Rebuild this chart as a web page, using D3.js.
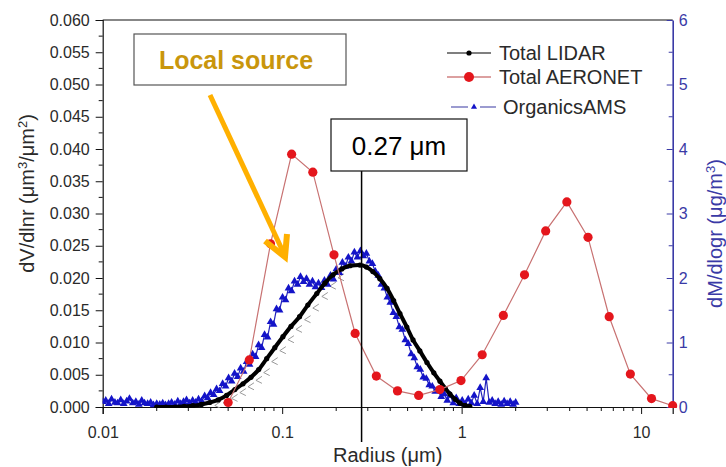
<!DOCTYPE html>
<html><head><meta charset="utf-8">
<script src="https://cdn.jsdelivr.net/npm/d3@7"></script>
<style>
html,body{margin:0;padding:0;background:#fff;}
svg{display:block;font-family:"Liberation Sans",Arial,sans-serif;}
</style></head>
<body>
<svg id="chart" width="726" height="467"></svg>
<script>
// ---------- DATA ----------
const xTickValues = [0.01, 0.1, 1, 10];
const xTickLabels = ["0.01", "0.1", "1", "10"];
const leftTicks = [0, 0.005, 0.01, 0.015, 0.02, 0.025, 0.03, 0.035, 0.04, 0.045, 0.05, 0.055, 0.06];
const rightTicks = [0, 1, 2, 3, 4, 5, 6];

// Total AERONET (left axis)
const aeronetR = [0.05, 0.0656, 0.0861, 0.1129, 0.1482, 0.1944, 0.2551, 0.3347, 0.4392, 0.5762, 0.7561, 0.9920,
  1.3016, 1.7078, 2.2407, 2.9400, 3.8575, 5.0613, 6.6407, 8.7131, 11.4323, 15.0];
const aeronetV = [0.0007, 0.0073, 0.0253, 0.0392, 0.0364, 0.0236, 0.0114, 0.0048, 0.0025, 0.0018, 0.0027, 0.0041,
  0.0081, 0.0142, 0.0205, 0.0273, 0.0318, 0.0263, 0.0140, 0.0051, 0.0013, 0.0002];

// Total LIDAR (left axis)
const lidarR = [0.0200, 0.0225, 0.0253, 0.0285, 0.0318, 0.0355, 0.0395, 0.0440, 0.0490, 0.0545, 0.0605, 0.0670,
  0.0740, 0.0820, 0.0910, 0.1010, 0.1120, 0.1250, 0.1390, 0.1560, 0.1730, 0.1920, 0.2150, 0.2390, 0.2710,
  0.2950, 0.3200, 0.3500, 0.3840, 0.4180, 0.4530, 0.4950, 0.5360, 0.5850, 0.6410, 0.7000, 0.7570, 0.8100,
  0.8610, 0.9200, 0.9780, 1.0500, 1.1100];
const lidarV = [0.0000, 0.0000, 0.0000, 0.0001, 0.0002, 0.0004, 0.0007, 0.0011, 0.0018, 0.0027, 0.0036, 0.0046,
  0.0058, 0.0075, 0.0092, 0.0109, 0.0125, 0.0140, 0.0158, 0.0176, 0.0192, 0.0205, 0.0214, 0.0219, 0.0220,
  0.0217, 0.0210, 0.0199, 0.0184, 0.0165, 0.0145, 0.0124, 0.0104, 0.0087, 0.0069, 0.0053, 0.0040, 0.0029,
  0.0020, 0.0012, 0.0006, 0.0002, 0.0001];

// Organics AMS (right axis)
const amsR = [0.0100, 0.0104, 0.0108, 0.0112, 0.0117, 0.0121, 0.0126, 0.0131, 0.0136, 0.0141, 0.0147, 0.0153,
  0.0159, 0.0165, 0.0171, 0.0178, 0.0185, 0.0192, 0.0200, 0.0208, 0.0216, 0.0224, 0.0233, 0.0242, 0.0252,
  0.0262, 0.0272, 0.0282, 0.0293, 0.0305, 0.0317, 0.0329,
  0.0342, 0.0356, 0.0370, 0.0384, 0.0399, 0.0415, 0.0431, 0.0448, 0.0466, 0.0484, 0.0503, 0.0523, 0.0543,
  0.0565, 0.0587, 0.0610, 0.0634, 0.0658, 0.0684, 0.0711, 0.0739, 0.0768, 0.0798, 0.0829, 0.0862, 0.0895,
  0.0930, 0.0967, 0.1005, 0.1044, 0.1085, 0.1128, 0.1172, 0.1218, 0.1265, 0.1315, 0.1366, 0.1420, 0.1475,
  0.1533, 0.1593, 0.1656, 0.1720, 0.1788, 0.1858, 0.1930, 0.2006, 0.2085, 0.2166, 0.2251, 0.2339, 0.2431,
  0.2526, 0.2625, 0.2728, 0.2835, 0.2946, 0.3061, 0.3181, 0.3306, 0.3435, 0.3570, 0.3710, 0.3855, 0.4006,
  0.4163, 0.4326, 0.4496, 0.4672, 0.4855, 0.5045, 0.5243, 0.5448, 0.5662, 0.5883, 0.6114, 0.6353, 0.6602,
  0.6861, 0.7130, 0.7409, 0.7699, 0.8001, 0.8314, 0.8640, 0.8978, 0.9330, 0.9696, 1.0076, 1.047, 1.088,
  1.131, 1.175, 1.221, 1.269, 1.319, 1.370, 1.424, 1.480, 1.538, 1.598, 1.661, 1.726, 1.793, 1.864, 1.937, 2.0];
const amsV = [0.08, 0.10, 0.05, 0.12, 0.07, 0.06, 0.11, 0.05, 0.09, 0.13, 0.06, 0.08,
  0.04, 0.10, 0.06, 0.05, 0.07, 0.03, 0.05, 0.04, 0.06, 0.03, 0.05, 0.07, 0.04,
  0.09, 0.05, 0.08, 0.11, 0.06, 0.10, 0.07,
  0.12, 0.09, 0.17, 0.14, 0.22, 0.19, 0.28, 0.25, 0.36, 0.32, 0.45, 0.40, 0.52,
  0.47, 0.60, 0.55, 0.70, 0.66, 0.82, 0.78, 0.96, 0.92, 1.12, 1.08, 1.32, 1.28,
  1.52, 1.50, 1.70, 1.66, 1.84, 1.80, 1.95, 1.90, 2.02, 1.94, 1.99, 1.90, 1.95,
  1.86, 1.92, 1.85, 1.96, 1.90, 2.04, 1.98, 2.14, 2.08, 2.24, 2.18, 2.32, 2.26,
  2.40, 2.32, 2.42, 2.34, 2.38, 2.26, 2.22, 2.10, 2.04, 1.90, 1.84, 1.70, 1.62,
  1.46, 1.40, 1.24, 1.20, 1.04, 0.98, 0.82, 0.76, 0.62, 0.58, 0.46, 0.44, 0.34,
  0.32, 0.24, 0.25, 0.16, 0.20, 0.10, 0.18, 0.06, 0.14, 0.05, 0.10, 0.04, 0.12,
  0.06, 0.18, 0.05, 0.30, 0.08, 0.45, 0.07, 0.10, 0.05, 0.08, 0.04, 0.09, 0.05, 0.08, 0.04, 0.07];

const seriesNames = ["Total LIDAR", "Total AERONET", "OrganicsAMS"];
const markerRadius = 0.27;   // µm, annotated
const markerLabel = "0.27 \u03bcm";
const localLabel = "Local source";

// ---------- LAYOUT ----------
const svg = d3.select("#chart");
const L = 102.7, R = 672.7, T = 20, B = 407;
const FONT = "'Liberation Sans', Arial, sans-serif";
const rightColor = "#3a3aa6";

const x = d3.scaleLog().domain([0.01, 15]).range([L, R]);
const yL = d3.scaleLinear().domain([0, 0.06]).range([B, T]);
const yR = d3.scaleLinear().domain([0, 6]).range([B, T]);

// frame top
svg.append("line").attr("x1", L).attr("x2", R).attr("y1", T).attr("y2", T)
  .attr("stroke", "#111").attr("stroke-width", 1.2);

// bottom axis
const minorX = [];
[0.01, 0.1, 1, 10].forEach(d => { for (let k = 2; k <= 9; k++) { const v = d * k; if (v <= 15) minorX.push(v); } });
const gx = svg.append("g").attr("transform", `translate(0,${B})`);
gx.call(d3.axisBottom(x).tickValues(xTickValues).tickFormat((d, i) => xTickLabels[i]).tickSize(7).tickPadding(13));
gx.append("g").selectAll("line").data(minorX).join("line")
  .attr("x1", d => x(d)).attr("x2", d => x(d)).attr("y1", 0).attr("y2", 4).attr("stroke", "#111");
gx.select(".domain").attr("stroke", "#111").attr("stroke-width", 1.2);
gx.selectAll(".tick line").attr("stroke", "#111");
gx.selectAll("text").attr("font-size", 16).attr("font-family", FONT).attr("fill", "#2a2a2a");

// left axis
const minorL = d3.range(0.0025, 0.06, 0.005);
const gl = svg.append("g").attr("transform", `translate(${L},0)`);
gl.call(d3.axisLeft(yL).tickValues(leftTicks).tickFormat(d3.format(".3f")).tickSize(7).tickPadding(6));
gl.append("g").selectAll("line").data(minorL).join("line")
  .attr("x1", 0).attr("x2", -4).attr("y1", d => yL(d)).attr("y2", d => yL(d)).attr("stroke", "#111");
gl.select(".domain").attr("stroke", "#111").attr("stroke-width", 1.2);
gl.selectAll(".tick line").attr("stroke", "#111");
gl.selectAll("text").attr("font-size", 16).attr("font-family", FONT).attr("fill", "#2a2a2a");

// right axis (ticks pointing inward)
const minorR = d3.range(0.5, 6, 1);
const gr = svg.append("g").attr("transform", `translate(${R},0)`);
gr.call(d3.axisRight(yR).tickValues(rightTicks).tickFormat(d3.format("d")).tickSize(0).tickPadding(6));
gr.selectAll(".tick").append("line").attr("x1", 0).attr("x2", -6).attr("stroke", rightColor);
gr.append("g").selectAll("line").data(minorR).join("line")
  .attr("x1", 0).attr("x2", -4).attr("y1", d => yR(d)).attr("y2", d => yR(d)).attr("stroke", rightColor);
gr.select(".domain").attr("stroke", rightColor).attr("stroke-width", 1.6);
gr.selectAll("text").attr("font-size", 16).attr("font-family", FONT).attr("fill", rightColor);

// axis titles
const lt = svg.append("text").attr("transform", `translate(34,${(T + B) / 2 - 20}) rotate(-90)`)
  .attr("text-anchor", "middle").attr("font-size", 20).attr("fill", "#2a2a2a").attr("font-family", FONT);
lt.append("tspan").text("dV/dlnr (\u03bcm");
lt.append("tspan").attr("dy", -7).attr("font-size", 13).text("3");
lt.append("tspan").attr("dy", 7).text("/\u03bcm");
lt.append("tspan").attr("dy", -7).attr("font-size", 13).text("2");
lt.append("tspan").attr("dy", 7).text(")");

const rt = svg.append("text").attr("transform", `translate(722,${(T + B) / 2 + 20}) rotate(-90)`)
  .attr("text-anchor", "middle").attr("font-size", 20).attr("fill", rightColor).attr("font-family", FONT);
rt.append("tspan").text("dM/dlogr (\u03bcg/m");
rt.append("tspan").attr("dy", -7).attr("font-size", 13).text("3");
rt.append("tspan").attr("dy", 7).text(")");

svg.append("text").attr("x", (L + R) / 2).attr("y", 462).attr("text-anchor", "middle")
  .attr("font-size", 20).attr("fill", "#2a2a2a").attr("font-family", FONT).text("Radius (\u03bcm)");

// ---------- SERIES ----------
const plot = svg.append("g");
svg.append("clipPath").attr("id", "clip").append("rect")
  .attr("x", L).attr("y", T - 5).attr("width", R - L + 5).attr("height", B - T + 6);
plot.attr("clip-path", "url(#clip)");

// LIDAR error ticks (grey) on rising flank
const lidar = lidarR.map((r, i) => ({ r, v: lidarV[i] }));
plot.append("g").selectAll("path").data(lidar.filter(d => d.r > 0.038 && d.r < 0.2)).join("path")
  .attr("d", d => { const px = x(d.r), py = yL(d.v); return `M${px + 11},${py - 1}L${px + 5},${py + 3}L${px + 11},${py + 6}`; })
  .attr("fill", "none").attr("stroke", "#9a9a9a").attr("stroke-width", 1);

// AMS
const ams = amsR.map((r, i) => ({ r, v: amsV[i] }));
plot.append("path").datum(ams)
  .attr("d", d3.line().x(d => x(d.r)).y(d => yR(d.v)))
  .attr("fill", "none").attr("stroke", "#2222bb").attr("stroke-width", 1.2);
plot.append("g").selectAll("path").data(ams).join("path")
  .attr("transform", d => `translate(${x(d.r)},${yR(d.v)})`)
  .attr("d", d3.symbol(d3.symbolTriangle, 26))
  .attr("fill", "#1414c8");

// LIDAR line + dots
plot.append("path").datum(lidar)
  .attr("d", d3.line().curve(d3.curveMonotoneX).x(d => x(d.r)).y(d => yL(d.v)))
  .attr("fill", "none").attr("stroke", "#000").attr("stroke-width", 4);
plot.append("g").selectAll("circle").data(lidar).join("circle")
  .attr("cx", d => x(d.r)).attr("cy", d => yL(d.v)).attr("r", 2.6).attr("fill", "#000");

// AERONET
const aer = aeronetR.map((r, i) => ({ r, v: aeronetV[i] }));
plot.append("path").datum(aer)
  .attr("d", d3.line().x(d => x(d.r)).y(d => yL(d.v)))
  .attr("fill", "none").attr("stroke", "#c87272").attr("stroke-width", 1.2);
plot.append("g").selectAll("circle").data(aer).join("circle")
  .attr("cx", d => x(d.r)).attr("cy", d => yL(d.v)).attr("r", 4.6).attr("fill", "#e4161c");

// ---------- ANNOTATIONS ----------
// vertical line at 0.27 µm
const mx = x(markerRadius) + 2;
svg.append("line").attr("x1", mx).attr("x2", mx).attr("y1", 171).attr("y2", 442)
  .attr("stroke", "#000").attr("stroke-width", 1.5);
svg.append("rect").attr("x", 331).attr("y", 119).attr("width", 136).attr("height", 52)
  .attr("fill", "#fff").attr("stroke", "#111").attr("stroke-width", 1.2);
svg.append("text").attr("x", 399).attr("y", 155).attr("text-anchor", "middle")
  .attr("font-size", 26).attr("fill", "#000").attr("font-family", FONT).text(markerLabel);

// Local source box
svg.append("rect").attr("x", 134).attr("y", 34).attr("width", 212).attr("height", 51)
  .attr("fill", "#fff").attr("stroke", "#555").attr("stroke-width", 1.2);
svg.append("text").attr("x", 236).attr("y", 69).attr("text-anchor", "middle")
  .attr("font-size", 25).attr("font-weight", "bold").attr("fill", "#c9960c").attr("font-family", FONT).text(localLabel);

// arrow
const arrowColor = "#ffb000";
svg.append("line").attr("x1", 210).attr("y1", 95).attr("x2", 285).attr("y2", 256)
  .attr("stroke", arrowColor).attr("stroke-width", 5);
svg.append("path").attr("d", "M265,241L285,257L287,234")
  .attr("fill", "none").attr("stroke", arrowColor).attr("stroke-width", 6).attr("stroke-linejoin", "miter");

// ---------- LEGEND ----------
const lg = svg.append("g").attr("font-family", FONT).attr("font-size", 20).attr("fill", "#2a2a2a");
// row 1
lg.append("line").attr("x1", 447).attr("x2", 491).attr("y1", 53).attr("y2", 53).attr("stroke", "#555").attr("stroke-width", 1.5);
lg.append("circle").attr("cx", 469).attr("cy", 53).attr("r", 2.6).attr("fill", "#000");
lg.append("text").attr("x", 499).attr("y", 60).text(seriesNames[0]);
// row 2
lg.append("line").attr("x1", 447).attr("x2", 491).attr("y1", 77).attr("y2", 77).attr("stroke", "#d08080").attr("stroke-width", 1.5);
lg.append("circle").attr("cx", 469).attr("cy", 77).attr("r", 5).attr("fill", "#e4161c");
lg.append("text").attr("x", 499).attr("y", 84).text(seriesNames[1]);
// row 3
lg.append("line").attr("x1", 451).attr("x2", 468).attr("y1", 107).attr("y2", 107).attr("stroke", "#7a7ac0").attr("stroke-width", 1.5);
lg.append("line").attr("x1", 480).attr("x2", 496).attr("y1", 107).attr("y2", 107).attr("stroke", "#7a7ac0").attr("stroke-width", 1.5);
lg.append("path").attr("transform", "translate(474,107)").attr("d", d3.symbol(d3.symbolTriangle, 16)).attr("fill", "#1414c8");
lg.append("text").attr("x", 503).attr("y", 114).text(seriesNames[2]);
</script>
</body></html>
